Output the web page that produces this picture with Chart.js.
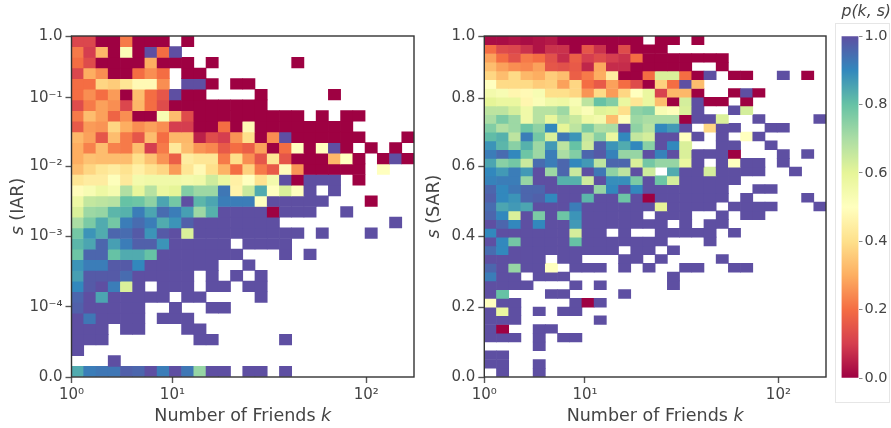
<!DOCTYPE html>
<html>
<head>
<meta charset="utf-8">
<script src="https://cdn.jsdelivr.net/npm/chart.js@4/dist/chart.umd.min.js"></script>
<style>
html,body{margin:0;padding:0;background:#fff;overflow:hidden}
#page{position:relative;width:891px;height:428px}
canvas{position:absolute;top:0}
#legendBox{position:absolute;left:835px;top:23px;width:53px;height:378px;border:1px solid #e6e6e6}
</style>
</head>
<body>
<div id="page">
<div id="legendBox"></div>
<canvas id="graficoIar" width="425" height="428" style="left:0"></canvas>
<canvas id="graficoSar" width="402" height="428" style="left:425px"></canvas>
<canvas id="graficoBarra" width="52" height="428" style="left:839px"></canvas>
</div>
<script>
const _=null

// p(k,s) per cell, rows listed top to bottom, blank cells are _
const iarRows=[
[.12,.12,0,0,.22,0,0,0,_,0],
[.22,.1,.32,0,.52,0,1,.2,1],
[.2,.13,0,0,0,0,.3,0,0,0,_,0,_,_,_,_,_,_,0],
[.12,.3,.25,0,0,.2,.25,.2,_,0,0],
[.2,.2,.38,.36,.42,.48,.48,.25,_,1,1,0,_,0,0],
[.2,.25,.2,.27,0,.33,.2,.15,1,0,0,_,_,_,_,0,_,_,_,_,_,0],
[.13,.22,.28,.25,.12,.32,.2,.13,0,0,0,0,0,0,0,0],
[.22,.33,.28,.18,.25,0,0,.53,.33,.13,0,0,0,0,0,0,0,0,0,_,0,_,0,0],
[.16,.27,.26,.38,.3,.25,.28,.25,.1,.1,0,0,.2,0,.48,0,0,0,0,0,0,0,0],
[.32,.28,.15,.33,.22,.15,.33,.2,.32,.32,.05,.13,.1,.26,.4,0,.25,1,0,0,0,0,0,0,_,_,_,0],
[.3,.23,.33,.23,.22,.33,.1,.22,.43,.33,.26,.24,.16,.2,.17,.28,0,.2,.5,0,.5,1,0,_,0,_,0],
[.3,.34,.33,.33,.33,.4,.34,.26,.17,.44,.42,.42,.22,.4,.25,.15,.42,.15,0,0,0,.32,.5,0,_,0,1,0],
[.33,.38,.42,.44,.41,.45,.41,.38,.27,.42,.48,.4,.31,.2,.37,.22,.16,.49,.26,0,0,0,0,0,_,.5],
[.42,.44,.44,.51,.43,.55,.56,.56,.56,.55,.56,.64,.58,.45,.5,.41,.55,1,0,1,1,1,_,0],
[.49,.53,.57,.54,.69,.59,.68,.58,.6,.76,.72,.72,.93,.46,.65,.84,.5,.62,.5,1,_,1],
[.57,.66,.67,.68,.8,.79,.74,.85,.78,1,.82,.85,.92,.92,.92,.5,1,1,1,1,1,_,_,_,0],
[.62,.72,.73,.82,.83,.92,.85,.95,.92,.86,.72,.83,1,1,1,1,0,1,1,1,_,_,1],
[.7,.77,.84,.78,.92,.95,.92,.84,.88,.97,1,1,1,1,1,1,1,_,_,_,_,_,_,_,_,_,1],
[.78,.88,.84,.96,.95,.98,.88,.98,1,.62,1,1,1,1,1,1,1,1,1,_,1,_,_,_,1],
[.82,.85,.96,.86,.92,.97,.97,.88,1,1,1,1,1,_,1,1,1,1],
[.79,.96,.96,.8,.84,.84,.8,1,1,1,1,1,1,1,_,_,_,1,_,1],
[.88,.92,.92,.98,.98,.9,1,1,1,1,1,1,_,_,1],
[.86,.98,.98,.98,.95,1,1,1,1,1,_,1,_,1,_,1],
[.9,.98,1,.92,.62,1,_,1,1,1,_,1,1,_,1,1],
[.96,1,.85,1,1,1,1,1,_,1,1,_,_,_,_,1],
[.97,1,1,1,1,1,_,_,1,_,_,1,1],
[1,.93,1,1,1,1,_,1,1,1],
[1,1,1,_,1,1,_,_,_,1,1],
[1,1,1,_,_,_,_,_,_,_,1,1,_,_,_,_,_,1],
[1],
[_,_,_,1],
[.84,.92,.93,.93,.97,.96,1,.92,1,.93,.73,1,1,_,1,1,_,1]
]

const sarRows=[
[.02,.02,.03,.02,.03,.04,0,0,0,0,0,0,0,_,0,0,_,0],
[.2,.13,.12,.08,.03,.08,.08,0,.15,.08,0,.13,0,0,0],
[.28,.2,.14,.22,.2,.14,.07,.17,.1,.13,.1,.08,.2,0,0,0,0,0,0,0],
[.33,.28,.25,.24,.28,.15,.14,.16,.06,.29,.07,.07,0,0,0,0,0,_,_,0],
[.38,.33,.39,.32,.3,.36,.33,.17,.22,.3,.44,0,0,.2,.62,.62,.2,0,1,_,0,0,_,_,1,_,0],
[.5,.39,.39,.39,.36,.37,.28,.38,.2,.16,.28,.2,.13,0,.37,.2,1,.33],
[.55,.53,.47,.48,.53,.4,.4,.38,.26,.39,.27,.38,.5,.58,.11,.32,.32,0,_,_,0,1,0],
[.6,.58,.58,.47,.52,.56,.57,.53,.67,.8,.76,.58,.42,.58,.33,0,.63,1,0,0,_,0],
[.67,.67,.63,.56,.68,.68,.72,.56,.52,.61,.6,.4,.74,.76,.53,.51,.62,1,_,_,1,.63],
[.7,.77,.72,.56,.68,.59,.68,.65,.57,.55,.33,.51,.72,.7,.7,.7,0,1,1,.62,_,_,1,_,_,_,_,1],
[.76,.69,.72,.79,.74,.9,.6,.67,.77,.69,.7,1,.74,.68,.9,.87,1,_,.38,1,1,_,_,1,1],
[.81,.83,.67,.92,.78,.62,.93,.88,.66,.75,.58,.9,.66,.63,1,1,.5,1,_,1,_,.5,1],
[.88,.82,.75,.83,.72,.87,.67,.8,.64,.97,.88,.84,.9,.75,1,.9,.62,_,_,1,1,_,_,1],
[.92,.95,.9,.79,.72,.92,.7,.76,.96,.98,.91,.73,.73,1,.91,1,.62,1,1,1,0,_,_,_,1,_,1],
[.85,.75,.78,.65,.95,.92,.96,.9,.87,.67,.96,.96,.62,.78,.73,.73,.58,1,_,1,.5,1,1,_,1],
[.9,.87,.92,.87,1,.72,.96,.65,1,.93,.74,.67,1,.64,_,.84,1,1,.63,1,1,1,1,_,_,1],
[.91,.92,.92,.73,1,1,.83,.83,.64,1,.89,.89,.77,1,.79,.63,1,1,1,1,1],
[.96,.9,.93,.96,.96,1,1,1,1,.73,.9,1,.9,1,1,1,1,1,1,1,_,_,1,1],
[.97,.9,.88,.96,.97,.9,1,1,.82,1,1,.79,1,0,1,1,1,1,1,1,_,1,_,_,_,_,1],
[.95,.85,.87,.85,1,1,1,.92,1,1,1,1,1,1,.6,1,1,1,1,_,1,1,1,1,_,_,_,1],
[.96,.9,.62,1,.77,1,.79,.88,1,1,1,1,1,_,1,1,1,_,_,1,_,1,1],
[1,.96,.9,1,.9,1,1,.87,1,1,1,1,1,1,1,_,1,_,1,1],
[.9,1,1,1,1,1,1,.63,1,1,_,1,_,_,1,1,1,1,1,_,1],
[1,.9,.78,1,1,1,1,.8,1,1,1,1,1,1,1,_,_,_,1],
[.95,.9,1,1,1,1,1,1,1,1,1,_,1,1,_,1],
[1,1,1,1,1,_,1,1,_,_,_,1,1,_,1,_,_,_,_,1],
[.96,1,.73,1,1,.5,_,1,1,1,_,1,_,1,_,_,1,1,_,_,1,1],
[.92,1,1,_,1,1,1,_,_,_,_,_,_,_,_,1],
[1,1,1,1,_,_,_,1,_,1,_,_,_,_,_,1],
[1,.8,_,_,_,1,1,_,_,_,_,1],
[.5,1,1,_,_,_,_,1,0,1],
[1,.58,1,_,1,_,1,1],
[1,1,1,_,_,_,_,_,_,1],
[1,0,_,_,1,1],
[1,1,1,_,1,_,1,1],
[_,_,_,_,1],
[1,1],
[1,1,_,_,1],
[_,1,_,_,1]
]

const numColumns=28

// tick places counted in bins from the lower left corner
const xTickBins=[0,8.25,24.1]
const xTickLabels=['10⁰','10¹','10²']
const iarTickBins=[0,6.57,13.23,19.8,26.2,32]
const iarTickLabels=['0.0','10⁻⁴','10⁻³','10⁻²','10⁻¹','1.0']
const sarTickBins=[0,8,16.1,24.1,31.9,39]
const sarTickLabels=['0.0','0.2','0.4','0.6','0.8','1.0']
const barTicks=[0,.2,.4,.6,.8,1]

const spectral=['#9e0142','#d53e4f','#f46d43','#fdae61','#fee08b','#ffffbf','#e6f598','#abdda4','#66c2a5','#3288bd','#5e4fa2']

const inkColor='#444'

function hexToRgb(h){
return [1,3,5].map(i=>parseInt(h.substr(i,2),16))
}

function corDoValor(v){
let p=Math.min(v,.9999)*(spectral.length-1)
let i=Math.floor(p)
let a=hexToRgb(spectral[i])
let b=hexToRgb(spectral[i+1])
let t=p-i
let c=a.map((x,n)=>Math.round(x+(b[n]-x)*t))
return `rgb(${c[0]},${c[1]},${c[2]})`
}

Chart.defaults.font.family='"DejaVu Sans"'
Chart.defaults.color=inkColor
Chart.defaults.animation=false
Chart.defaults.responsive=false

// one floating-bar dataset per row of the heatmap
function montarLinhas(rows){
let total=rows.length
return rows.map((row,r)=>{
let pontos=[]
row.forEach((v,c)=>{
if(v===null)return
let base=total-1-r
pontos.push({x:c+.5,y:[base,base+1],v:v})
})
return {
data:pontos,
grouped:false,
barPercentage:1,
categoryPercentage:1,
borderWidth:0,
backgroundColor:ctx=>corDoValor(ctx.raw.v)
}
})
}

// frame and axis titles with the italic letters
const molduraPlugin={
id:'moldura',
afterDraw(chart,args,opts){
let a=chart.chartArea
let ctx=chart.ctx
ctx.save()
ctx.strokeStyle='#333'
ctx.lineWidth=1.4
ctx.strokeRect(a.left,a.top,a.right-a.left,a.bottom-a.top)
ctx.fillStyle=inkColor
ctx.textBaseline='middle'
escreverPartes(ctx,opts.xParts,(a.left+a.right)/2,opts.xTitleY)
ctx.translate(opts.yTitleX,(a.top+a.bottom)/2)
ctx.rotate(-Math.PI/2)
escreverPartes(ctx,opts.yParts,0,0)
ctx.restore()
}
}

function escreverPartes(ctx,partes,cx,y){
let fonte=p=>`${p[1]?'italic ':''}17.5px "DejaVu Sans"`
let largura=0
partes.forEach(p=>{
ctx.font=fonte(p)
largura+=ctx.measureText(p[0]).width
})
let x=cx-largura/2
ctx.textAlign='left'
partes.forEach(p=>{
ctx.font=fonte(p)
ctx.fillText(p[0],x,y)
x+=ctx.measureText(p[0]).width
})
}

function eixoTicks(bins,labels){
return {
offset:false,
afterBuildTicks(scale){
scale.ticks=bins.map(b=>({value:b}))
},
ticks:{
autoSkip:false,
maxRotation:0,
font:{size:15},
color:inkColor,
callback(value){
return labels[bins.indexOf(value)]
}
},
grid:{offset:false,drawOnChartArea:false,drawTicks:true,tickLength:6,tickColor:'#555',tickWidth:1.4},
border:{display:false}
}
}

function criarHeatmap(id,rows,yBins,yLabels,yParts,leftWidth,rightPad,yTitleX){
return new Chart(document.getElementById(id),{
type:'bar',
data:{datasets:montarLinhas(rows)},
options:{
layout:{padding:{top:36,right:rightPad,left:0,bottom:0}},
plugins:{
legend:{display:false},
tooltip:{enabled:false},
moldura:{
xParts:[['Number of Friends ',false],['k',true]],
yParts:yParts,
xTitleY:416,
yTitleX:yTitleX
}
},
scales:{
x:Object.assign(eixoTicks(xTickBins,xTickLabels),{
type:'linear',
min:0,
max:numColumns,
afterFit(scale){scale.height=51}
}),
y:Object.assign(eixoTicks(yBins,yLabels),{
type:'linear',
min:0,
max:rows.length,
afterFit(scale){scale.width=leftWidth}
})
}
},
plugins:[molduraPlugin]
})
}

criarHeatmap('graficoIar',iarRows,iarTickBins,iarTickLabels,[['s',true],[' (IAR)',false]],71.5,11,18)
criarHeatmap('graficoSar',sarRows,sarTickBins,sarTickLabels,[['s',true],[' (SAR)',false]],59.3,1,9)

// colour bar
new Chart(document.getElementById('graficoBarra'),{
type:'bar',
data:{
labels:['p'],
datasets:[{
data:[[0,1]],
barPercentage:1,
categoryPercentage:1,
backgroundColor(ctx){
let a=ctx.chart.chartArea
if(!a)return spectral[0]
let g=ctx.chart.ctx.createLinearGradient(0,a.bottom,0,a.top)
spectral.forEach((c,i)=>g.addColorStop(i/(spectral.length-1),c))
return g
}
}]
},
options:{
layout:{padding:{left:2.5,right:0,top:0,bottom:50}},
plugins:{
legend:{display:false},
tooltip:{enabled:false},
title:{
display:true,
text:'p(k, s)',
color:inkColor,
font:{size:16,style:'italic',weight:'normal'},
padding:{top:2,bottom:15}
}
},
scales:{
x:{display:false},
y:{
position:'right',
min:0,
max:1,
afterBuildTicks(scale){
scale.ticks=barTicks.map(b=>({value:b}))
},
afterFit(scale){scale.width=32.5},
ticks:{font:{size:14.5},color:inkColor,padding:2,callback:v=>v.toFixed(1)},
grid:{drawOnChartArea:false,tickLength:4,tickColor:'#888',tickWidth:1},
border:{display:false}
}
}
}
})
</script>
</body>
</html>
